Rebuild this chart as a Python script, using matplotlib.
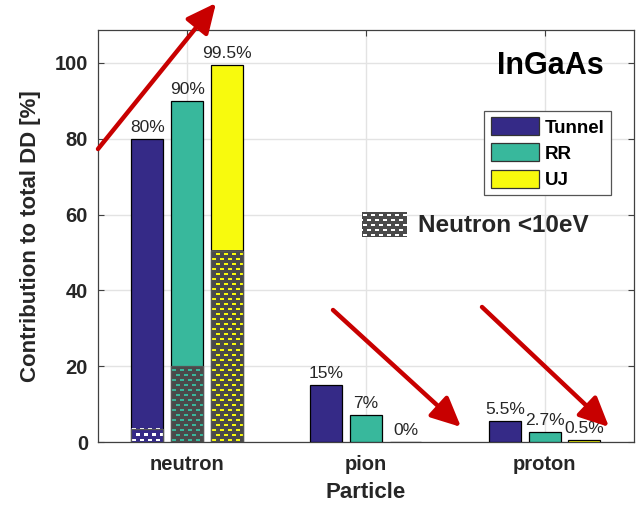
import numpy as np
import matplotlib
matplotlib.use("Agg")
import matplotlib.pyplot as plt
from matplotlib.patches import Rectangle, FancyArrowPatch, Patch
from matplotlib.colors import to_rgb

# ---- data -------------------------------------------------------------
particles = ["neutron", "pion", "proton"]
sources = ["Tunnel", "RR", "UJ"]
tunnel = [80, 15, 5.5]
rr = [90, 7, 2.7]
uj = [99.5, 0, 0.5]
tunnel_labels = ["80%", "15%", "5.5%"]
rr_labels = ["90%", "7%", "2.7%"]
uj_labels = ["99.5%", "0%", "0.5%"]
# part of the neutron contribution coming from neutrons below 10 eV
slow_neutron = [3.5, 20, 50.5]
yticks = [0, 20, 40, 60, 80, 100]

colors = ["#352a87", "#38b89c", "#f8fa0d"]
pattern_bg = "#4a4a4a"
# texture (dash colour, background) for each source
textures = [("white", "#352a87"), ("#38b89c", pattern_bg),
            ("#f8fa0d", pattern_bg)]
text_c = "#262626"
arrow_c = "#c80000"

plt.rcParams["font.family"] = ["Liberation Sans", "DejaVu Sans"]

W, H = 641, 508
fig = plt.figure(figsize=(W / 100, H / 100), dpi=100)
ax = fig.add_axes([97.7 / W, 66 / H, 536.3 / W, 412.5 / H])

n = len(particles)
x = np.arange(1, n + 1)
offset, width = 0.222, 0.178
ax.set_xlim(0.5, n + 0.5)
ax.set_ylim(0, 108.8)
ax.set_autoscale_on(False)


def brick(h, w, fg, bg, row=5, dash=4, period=8, thick=2):
    """Staggered short-dash texture, row 0 at the bottom."""
    img = np.empty((h, w, 3))
    img[:] = to_rgb(bg)
    fg = to_rgb(fg)
    for k, r0 in enumerate(range(0, h, row)):
        shift = period // 2 if k % 2 else 0
        for c in range(-period, w + period, period):
            c0 = max(c + shift + 1, 0)
            c1 = min(c + shift + 1 + dash, w)
            if c1 > c0:
                img[r0 + 1:min(r0 + 1 + thick, h), c0:c1] = fg
    return img


series = [tunnel, rr, uj]
labels = [tunnel_labels, rr_labels, uj_labels]
for i, (vals, labs) in enumerate(zip(series, labels)):
    xs = x + (i - 1) * offset
    ax.bar(xs, vals, width=width, color=colors[i], edgecolor="black",
           linewidth=0.9, zorder=3, label=sources[i])
    for xi, v, lab in zip(xs, vals, labs):
        ax.annotate(lab, (xi, v), xytext=(0, 3), textcoords="offset points",
                    ha="center", va="bottom", fontsize=12.5, color=text_c,
                    zorder=6)

# textured low-energy part of the neutron bars
for i, h in enumerate(slow_neutron):
    x0 = x[0] + (i - 1) * offset - width / 2
    x1 = x0 + width
    (px0, py0), (px1, py1) = ax.transData.transform([(x0, 0), (x1, h)])
    fg, bg = textures[i]
    img = brick(max(int(round(py1 - py0)), 1), max(int(round(px1 - px0)), 1),
                fg, bg)
    ax.imshow(img, extent=(x0, x1, 0, h), origin="lower", aspect="auto",
              interpolation="nearest", zorder=4)
    ax.add_patch(Rectangle((x0, 0), width, h, fill=False,
                           edgecolor="#555555", linewidth=0.9, zorder=5))

# axes styling
ax.set_xticks(x)
ax.set_xticklabels(particles)
ax.set_yticks(yticks)
ax.tick_params(direction="in", top=True, right=True, length=4, width=0.8,
               color="#404040", labelsize=14.5, labelcolor=text_c, pad=7)
for t in ax.get_xticklabels() + ax.get_yticklabels():
    t.set_fontweight("bold")
ax.tick_params(axis="x", pad=9)
for s in ax.spines.values():
    s.set_color("#404040")
    s.set_linewidth(0.9)
ax.grid(True, color="#e3e3e3", linewidth=1.0, zorder=0)
ax.set_axisbelow(True)

ax.set_xlabel("Particle", fontsize=16, fontweight="bold", color=text_c,
              labelpad=6)
ax.set_ylabel("Contribution to total DD [%]", fontsize=16, fontweight="bold",
              color=text_c, labelpad=10)

ax.text(0.8434, 0.9115, "InGaAs", transform=ax.transAxes, fontsize=22,
        fontweight="bold", color="black", ha="center", va="center", zorder=7)

handles = [Patch(facecolor=c, edgecolor="#333333", linewidth=0.9)
           for c in colors]
leg = ax.legend(handles, sources, loc="upper right",
                bbox_to_anchor=(611 / W, (H - 110.7) / H),
                bbox_transform=fig.transFigure, prop={"weight": "bold",
                                                      "size": 13.5},
                handlelength=2.56, handleheight=1.1, handletextpad=0.3,
                borderpad=0.35, labelspacing=0.36, borderaxespad=0,
                frameon=True, fancybox=False, framealpha=1)
leg.get_frame().set_edgecolor("#555555")
leg.get_frame().set_linewidth(0.9)
leg.set_zorder(8)

# swatch and caption for the low-energy neutron texture
sw = brick(25, 45, "white", pattern_bg)
fig.figimage(sw, xo=362, yo=H - 237, origin="lower", zorder=10)
fig.text(418 / W, (H - 225) / H, "Neutron <10eV", fontsize=17.5,
         fontweight="bold", color=text_c, ha="left", va="center", zorder=10)

# trend arrows
arrows = [((98, 149), (216, 3)), ((333, 310), (461, 427)),
          ((482, 307), (609, 427))]
for (ax0, ay0), (ax1, ay1) in arrows:
    fig.add_artist(FancyArrowPatch(
        (ax0 / W, (H - ay0) / H), (ax1 / W, (H - ay1) / H),
        transform=fig.transFigure,
        arrowstyle="-|>,head_length=1.8,head_width=0.85",
        mutation_scale=10, color=arrow_c, linewidth=3.2, shrinkA=0,
        shrinkB=0, zorder=20))

fig.savefig("out.png", dpi=100)
